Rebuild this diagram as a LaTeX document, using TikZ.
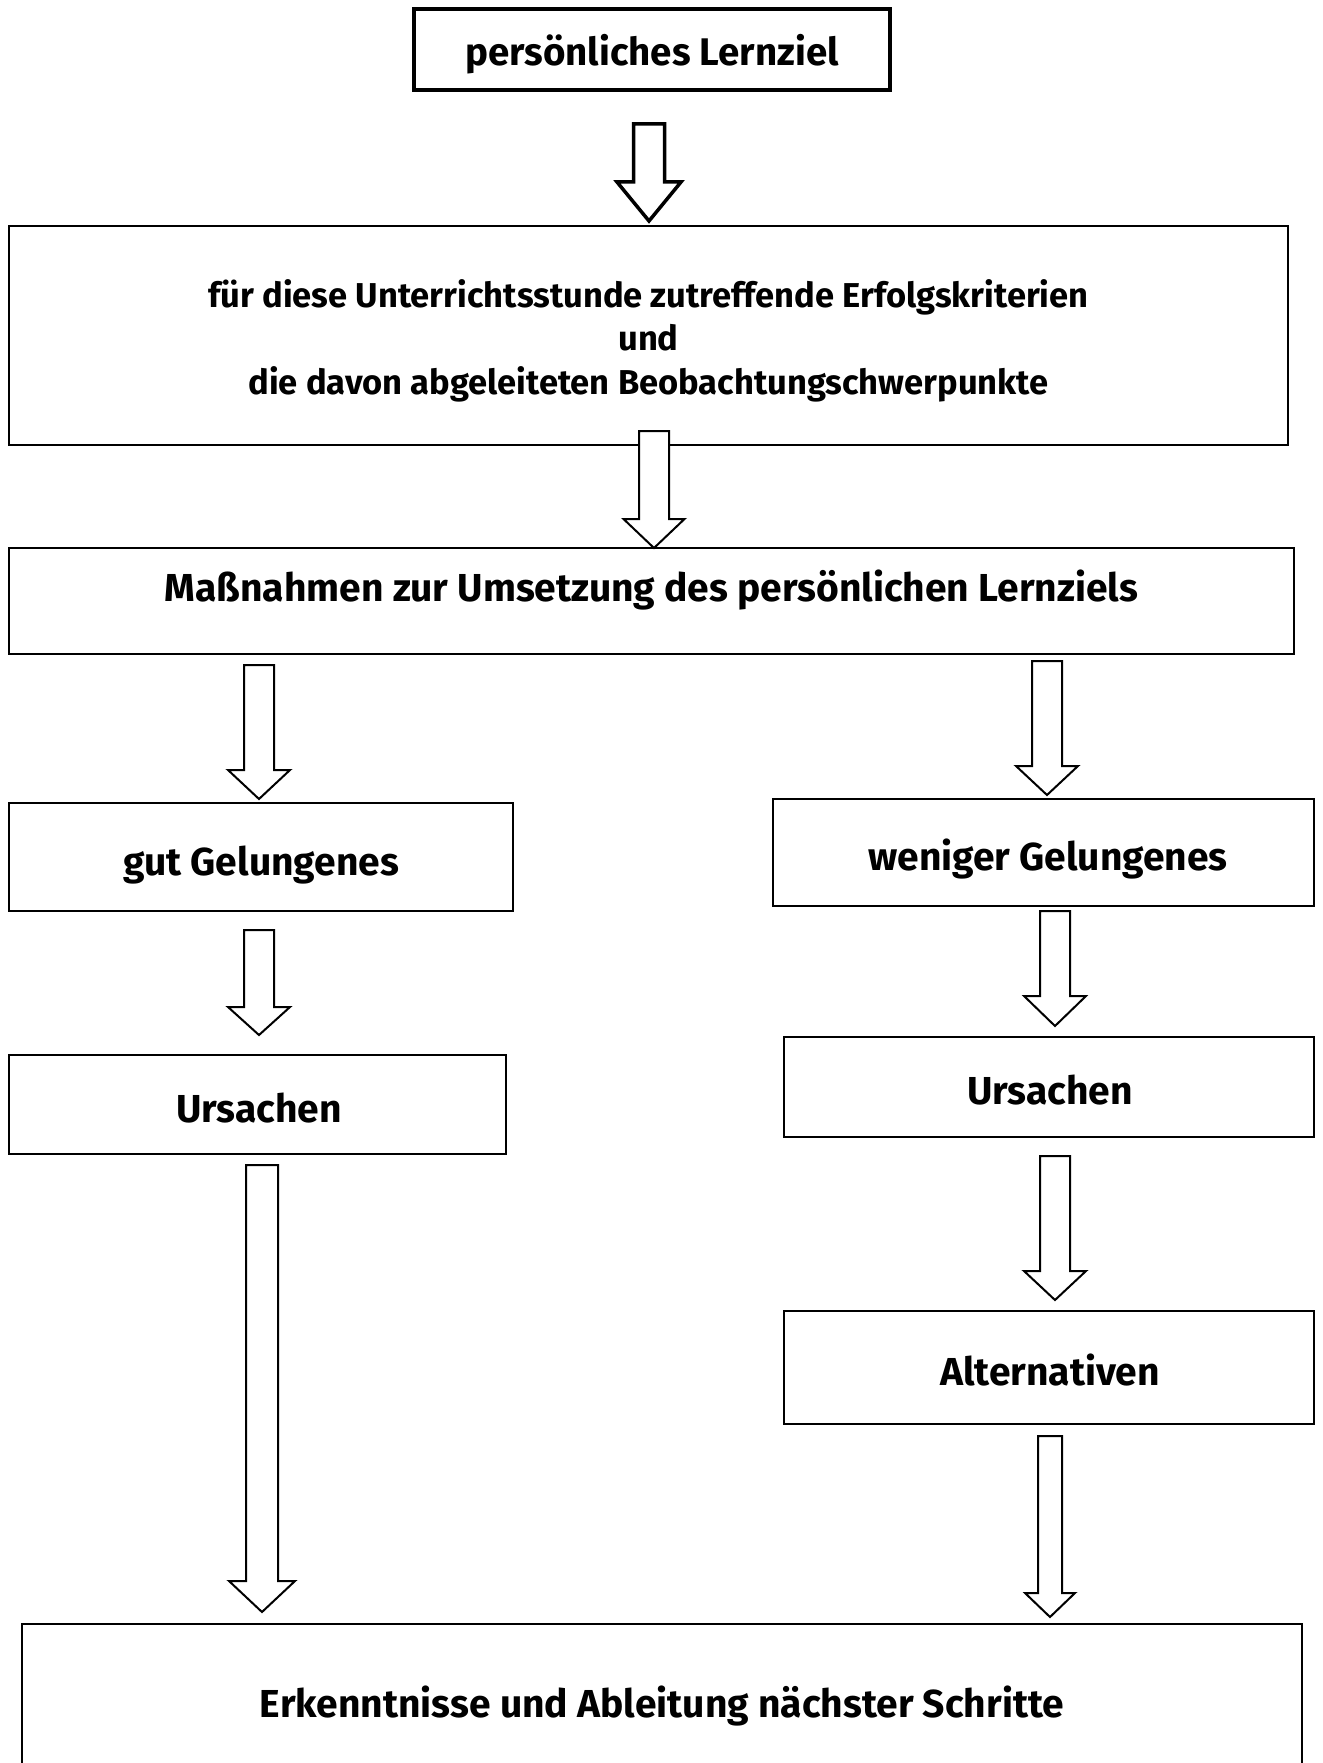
\documentclass[tikz,border=0pt]{standalone}
\usepackage{fontspec}
\setmainfont{Fira Sans}
\newcommand\blockarr[7][]{%
  \draw[#1] ({#2-#6},#3) -- ({#2+#6},#3) -- ({#2+#6},#4) -- ({#2+#7},#4)
    -- (#2,#5) -- ({#2-#7},#4) -- ({#2-#6},#4) -- cycle;}
\begin{document}
\begin{tikzpicture}[x=1pt,y=-1pt,
  box/.style={draw, line width=2pt, inner sep=0pt, fill=white},
  thickbox/.style={draw, line width=3.5pt, inner sep=0pt},
  txt/.style={anchor=base, inner sep=0pt, font=\fontsize{39}{46}\selectfont\bfseries},
  toptxt/.style={anchor=base, inner sep=0pt, font=\fontsize{38.5}{46}\selectfont\bfseries},
  smalltxt/.style={anchor=base, inner sep=0pt, font=\fontsize{34.5}{40}\selectfont\bfseries},
  arr/.style={draw, line width=2pt, fill=white, line join=miter},
  thickarr/.style={draw, line width=3.5pt, fill=white, line join=miter}]
\useasboundingbox (0,0) rectangle (1322,1763);
\fill[white] (0,0) rectangle (1322,1763);

% boxes
\node[thickbox, minimum width=476pt, minimum height=81pt] (ziel) at (652,49.5) {};
\node[box, minimum width=1279pt, minimum height=219pt] (krit) at (648.5,335.5) {};
\node[box, minimum width=1285pt, minimum height=106pt] (mass) at (651.5,601) {};
\node[box, minimum width=504pt, minimum height=108pt] (gut) at (261,857) {};
\node[box, minimum width=541pt, minimum height=107pt] (wen) at (1043.5,852.5) {};
\node[box, minimum width=497pt, minimum height=99pt] (ursL) at (257.5,1104) {};
\node[box, minimum width=530pt, minimum height=100pt] (ursR) at (1049,1087) {};
\node[box, minimum width=530pt, minimum height=113pt] (alt) at (1049,1367.5) {};
\node[box, minimum width=1280pt, minimum height=180pt] (fin) at (662,1714) {};

% texts
\node[toptxt] (tziel) at (652,66) {persönliches Lernziel};
\node[smalltxt] (tk1) at (648.5,307) {für diese Unterrichtsstunde zutreffende Erfolgskriterien};
\node[smalltxt] (tk2) at (648.5,350) {und};
\node[smalltxt] (tk3) at (648.5,394) {die davon abgeleiteten Beobachtungschwerpunkte};
\node[txt] (tmass) at (651.5,601) {Maßnahmen zur Umsetzung des persönlichen Lernziels};
\node[txt] (tgut) at (261,875) {gut Gelungenes};
\node[txt] (twen) at (1048,870) {weniger Gelungenes};
\node[txt] (tursL) at (259,1122) {Ursachen};
\node[txt] (tursR) at (1050,1104) {Ursachen};
\node[txt] (talt) at (1050,1385) {Alternativen};
\node[txt] (tfin) at (662,1717) {Erkenntnisse und Ableitung nächster Schritte};

% block arrows: cx, top, headbase, tip, shaft half, head half
\blockarr[thickarr]{649}{124}{182}{221}{15.5}{32}
\blockarr[arr]{654}{431}{519}{548}{15}{30.5}
\blockarr[arr]{259}{665}{770}{799}{15}{31}
\blockarr[arr]{1047}{661}{766}{795}{15}{31}
\blockarr[arr]{259}{930}{1007}{1035}{15}{31}
\blockarr[arr]{1055}{911}{996}{1026}{15}{31}
\blockarr[arr]{262}{1165}{1581}{1612}{16}{33}
\blockarr[arr]{1055}{1156}{1271}{1300}{15}{31}
\blockarr[arr]{1050}{1436}{1593}{1617}{12}{25}
\end{tikzpicture}
\end{document}
